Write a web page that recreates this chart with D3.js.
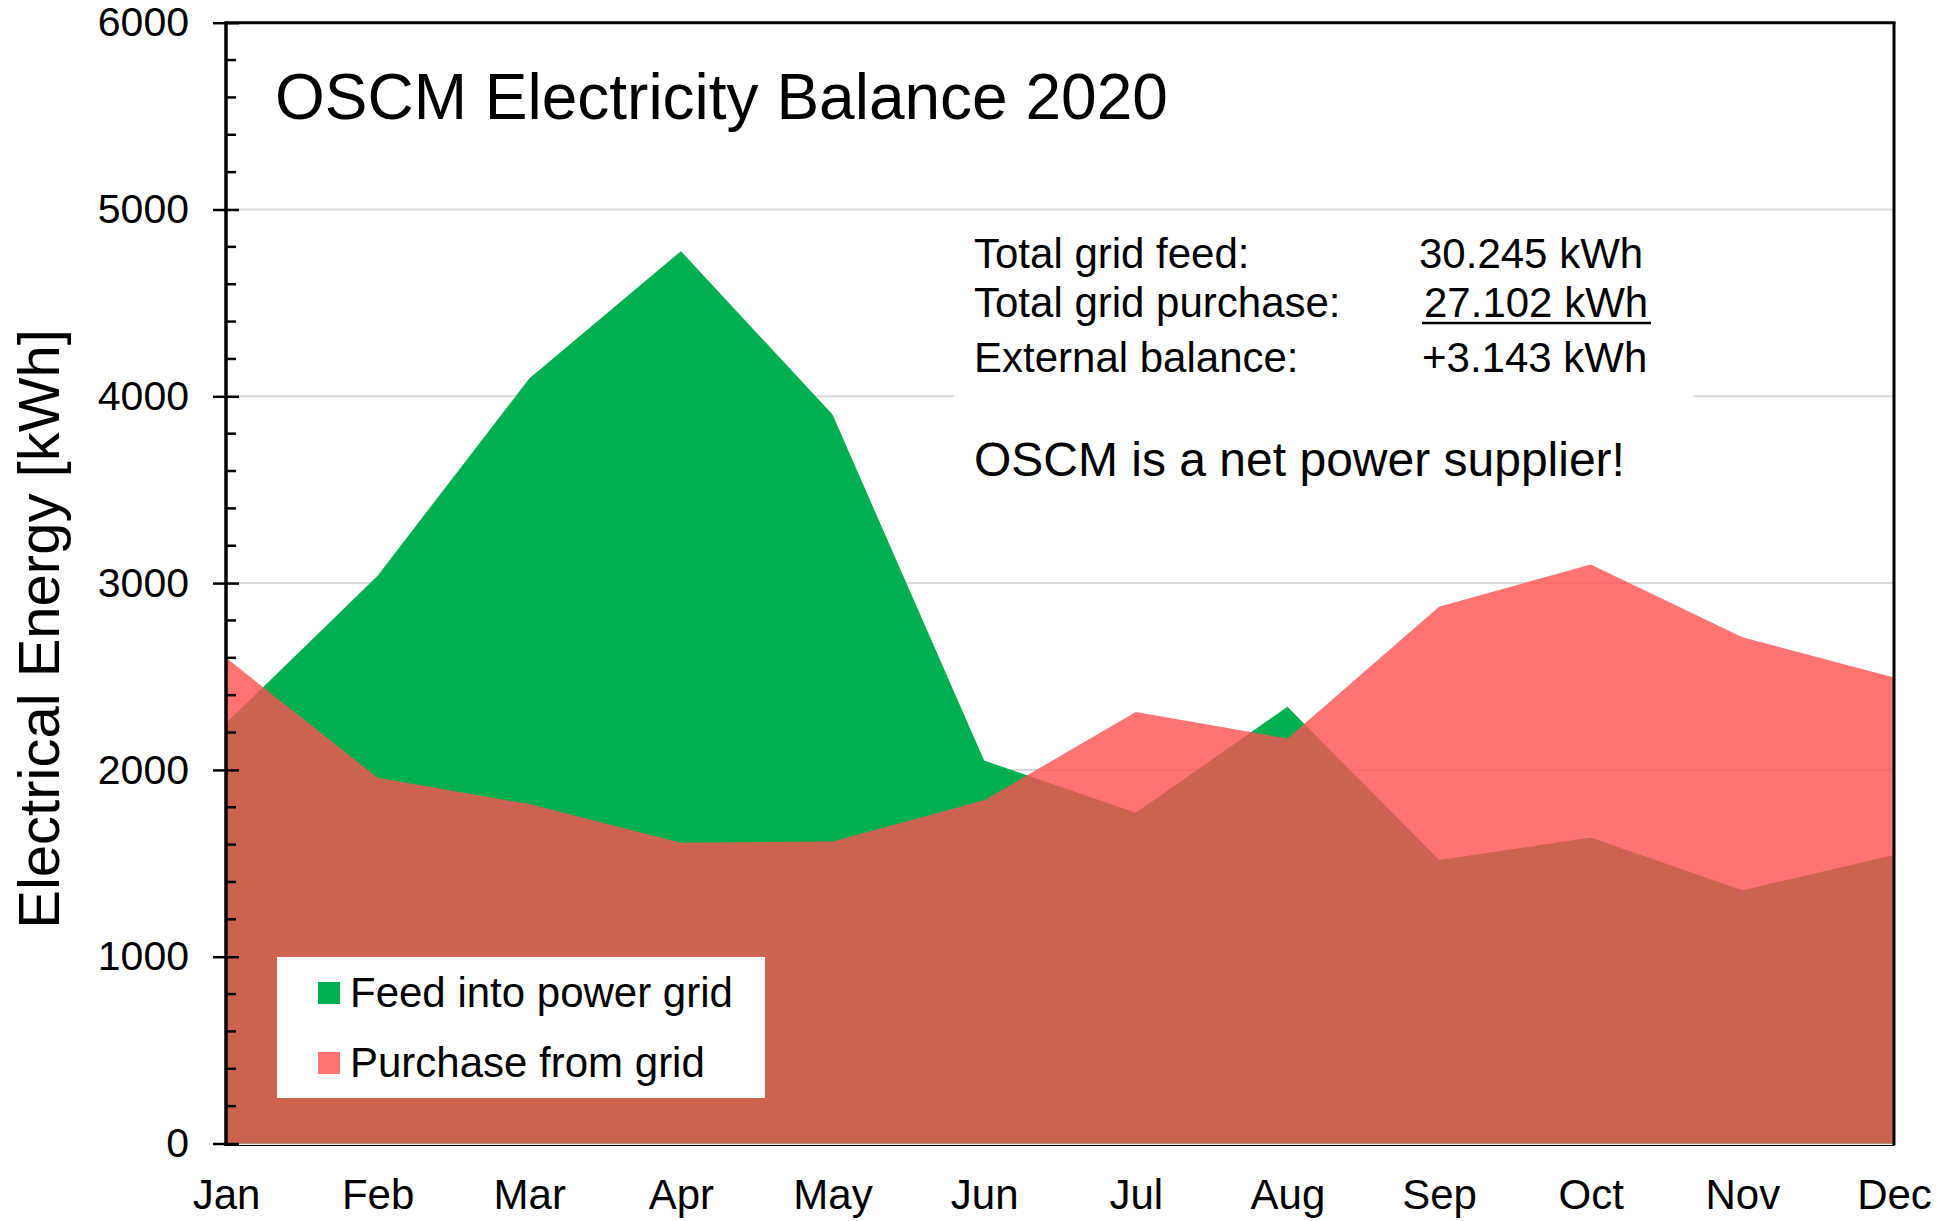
<!DOCTYPE html>
<html>
<head>
<meta charset="utf-8">
<script src="https://cdn.jsdelivr.net/npm/d3@7"></script>
<style>
  html, body { margin: 0; padding: 0; background: #fff; }
  svg { display: block; font-family: "Liberation Sans", Arial, sans-serif; }
</style>
</head>
<body>
<svg id="chart" width="1958" height="1221"></svg>
<script>
const months = ["Jan","Feb","Mar","Apr","May","Jun","Jul","Aug","Sep","Oct","Nov","Dec"];
const feedIntoGrid = [2250, 3040, 4095, 4777, 3902, 2050, 1770, 2338, 1517, 1638, 1356, 1545];
const purchaseFromGrid = [2600, 1958, 1817, 1610, 1617, 1837, 2310, 2168, 2873, 3100, 2710, 2495];
const yTicks = [0, 1000, 2000, 3000, 4000, 5000, 6000];
const seriesNames = ["Feed into power grid", "Purchase from grid"];
const statLabels = ["Total grid feed:", "Total grid purchase:", "External balance:"];
const statValues = ["30.245 kWh", "27.102 kWh", "+3.143 kWh"];
const titleText = "OSCM Electricity Balance 2020";
const noteText = "OSCM is a net power supplier!";
const yLabel = "Electrical Energy [kWh]";

(function () {
const svg = d3.select("#chart");
const pLeft = 226, pRight = 1894, pTop = 22.7, pBottom = 1143.5;

const x = d3.scalePoint().domain(months).range([pLeft, pRight]);
const y = d3.scaleLinear().domain([0, 6000]).range([pBottom, pTop]);

// gridlines
svg.append("g").selectAll("line").data(yTicks.filter(d => d < 6000)).join("line")
  .attr("x1", pLeft).attr("x2", pRight)
  .attr("y1", d => y(d)).attr("y2", d => y(d))
  .attr("stroke", "#d9d9d9").attr("stroke-width", 2);

const area = d3.area().x((d, i) => x(months[i])).y0(y(0)).y1(d => y(d));

svg.append("path").datum(feedIntoGrid).attr("d", area).attr("fill", "#00b050");
svg.append("path").datum(purchaseFromGrid).attr("d", area).attr("fill", "#ff5050").attr("fill-opacity", 0.8);

// stats box
svg.append("rect").attr("x", 954).attr("y", 222).attr("width", 739).attr("height", 320).attr("fill", "#fff");
const statY = [268, 317, 372];
const valX = [1419, 1424, 1422];
statLabels.forEach((s, i) => {
  svg.append("text").attr("x", 974).attr("y", statY[i]).attr("font-size", 42).attr("fill", "#000").text(s);
  svg.append("text").attr("x", valX[i]).attr("y", statY[i]).attr("font-size", 42).attr("fill", "#000").text(statValues[i]);
});
svg.append("line").attr("x1", 1422).attr("x2", 1651).attr("y1", 323).attr("y2", 323)
  .attr("stroke", "#000").attr("stroke-width", 2.5);
svg.append("text").attr("x", 974).attr("y", 476).attr("font-size", 48).attr("fill", "#000").text(noteText);

// title
svg.append("text").attr("x", 275).attr("y", 119).attr("font-size", 64).attr("fill", "#000").text(titleText);

// legend
svg.append("rect").attr("x", 277).attr("y", 957).attr("width", 488).attr("height", 141).attr("fill", "#fff");
const legColors = ["#00b050", "#ff7373"];
const legY = [982, 1052];
seriesNames.forEach((n, i) => {
  svg.append("rect").attr("x", 318).attr("y", legY[i]).attr("width", 22).attr("height", 22).attr("fill", legColors[i]);
  svg.append("text").attr("x", 350).attr("y", legY[i] + 25).attr("font-size", 42).attr("fill", "#000").text(n);
});

// borders
svg.append("line").attr("x1", pLeft).attr("x2", pRight + 1.5).attr("y1", pTop).attr("y2", pTop)
  .attr("stroke", "#000").attr("stroke-width", 3);
svg.append("line").attr("x1", pRight).attr("x2", pRight).attr("y1", pTop).attr("y2", pBottom + 2)
  .attr("stroke", "#000").attr("stroke-width", 3);
svg.append("line").attr("x1", pLeft).attr("x2", pRight).attr("y1", pBottom + 2).attr("y2", pBottom + 2)
  .attr("stroke", "#000").attr("stroke-width", 1.2);

// y axis
const yAxis = d3.axisLeft(y).tickValues(yTicks).tickSize(13).tickPadding(24).tickFormat(d3.format("d"));
const gy = svg.append("g").attr("transform", `translate(${pLeft},0)`).call(yAxis);
gy.select(".domain").attr("stroke", "#000").attr("stroke-width", 3.5).attr("d", `M0,${pTop - 1.5}V${pBottom + 2.5}`);
gy.selectAll(".tick line").attr("stroke", "#000").attr("stroke-width", 2.5).attr("x1", 13);
gy.selectAll(".tick text").attr("font-size", 41).attr("fill", "#000")
  .attr("font-family", "'Liberation Sans', Arial, sans-serif");
const minor = d3.range(0, 6001, 200).filter(v => v % 1000 !== 0);
svg.append("g").selectAll("line").data(minor).join("line")
  .attr("x1", pLeft).attr("x2", pLeft + 10).attr("y1", d => y(d)).attr("y2", d => y(d))
  .attr("stroke", "#000").attr("stroke-width", 2.5);

// x axis labels
const xAxis = d3.axisBottom(x).tickSize(0).tickPadding(0);
const gx = svg.append("g").attr("transform", `translate(0,${pBottom})`).call(xAxis);
gx.select(".domain").remove();
gx.selectAll(".tick text").attr("font-size", 42).attr("fill", "#000").attr("dy", null).attr("y", 65)
  .attr("font-family", "'Liberation Sans', Arial, sans-serif");

// y label
svg.append("text").attr("transform", "translate(59,629) rotate(-90)").attr("text-anchor", "middle")
  .attr("font-size", 58).attr("fill", "#000").text(yLabel);
})();
</script>
</body>
</html>
